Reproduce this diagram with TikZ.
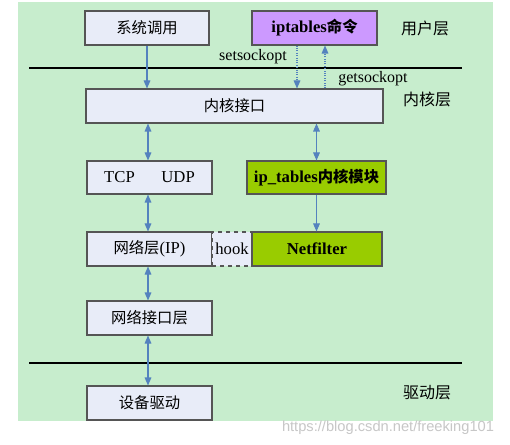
\documentclass[tikz,border=0pt]{standalone}
\usepackage{fontspec}
\setmainfont{Liberation Serif}
\newfontfamily\cjk{Noto Sans CJK SC}
\newfontfamily\wmfont{Liberation Sans}
\usetikzlibrary{arrows.meta,calc}
\definecolor{bgc}{RGB}{199,237,205}
\definecolor{boxc}{RGB}{232,236,248}
\definecolor{edgec}{RGB}{85,85,85}
\definecolor{purc}{RGB}{204,153,255}
\definecolor{grnc}{RGB}{153,204,0}
\definecolor{arrc}{RGB}{84,130,190}
\tikzset{
  box/.style={draw=edgec, line width=0.8pt, fill=boxc, inner sep=0pt, minimum height=25.5pt, font=\fontsize{12.5}{14}\selectfont},
  purbox/.style={box, fill=purc},
  grnbox/.style={box, fill=grnc},
  hookbox/.style={box, draw=edgec, dashed},
  conn/.style={draw=arrc, line width=0.8pt},
  onearrow/.style={conn, -{Triangle[length=6pt,width=5pt]}},
  twoarrow/.style={conn, {Triangle[length=6pt,width=5pt]}-{Triangle[length=6pt,width=5pt]}},
  dotarrow/.style={onearrow, densely dotted},
  layerlabel/.style={font=\cjk\fontsize{12}{14}\selectfont, inner sep=0pt},
  smalllabel/.style={font=\fontsize{12}{14}\selectfont, inner sep=0pt},
  rule/.style={draw=black, line width=1.6pt}
}
\newcommand{\cjkt}[1]{{\cjk\fontsize{11.5}{14}\selectfont #1}}
\begin{document}
\begin{tikzpicture}[x=0.75pt,y=-0.75pt]
\useasboundingbox (0,0) rectangle (510,445);
\fill[white] (0,0) rectangle (510,445);
\fill[bgc] (18,2) rectangle (493,421);
% rules
\draw[rule] (29,68) -- (462,68);
\draw[rule] (29,363) -- (462,363);
% boxes
\node[box, minimum width=93pt] (sys) at (147,28) {\cjkt{系统调用}};
\node[purbox, minimum width=93.75pt] (ipt) at (314.5,28) {\textbf{iptables}{\cjk\fontsize{11.5}{14}\selectfont\bfseries 命令}};
\node[box, minimum width=222.75pt] (kif) at (234.5,106) {\cjkt{内核接口}};
\node[box, minimum width=93.75pt, minimum height=24.75pt] (tcp) at (149.5,177.5) {TCP\hspace{1.6em}UDP};
\node[grnbox, minimum width=104.25pt, minimum height=24.75pt] (ipm) at (316.5,177.5) {\textbf{ip\_tables}{\cjk\fontsize{11.5}{14}\selectfont\bfseries 内核模块}};
\node[box, minimum width=93.75pt] (net) at (149.5,249) {\cjkt{网络层}(IP)};
\node[hookbox, minimum width=30pt] (hook) at (232,249) {hook};
\node[grnbox, minimum width=97.5pt] (nf) at (317,249) {\textbf{Netfilter}};
\node[box, minimum width=93.75pt] (nif) at (149.5,318) {\cjkt{网络接口层}};
\node[box, minimum width=93.75pt] (dev) at (149.5,403) {\cjkt{设备驱动}};
% layer labels
\node[layerlabel] (lu) at (425,28) {用户层};
\node[layerlabel] (lk) at (427,99) {内核层};
\node[layerlabel] (ld) at (427,393) {驱动层};
\node[smalllabel] (sso) at (253,57) {setsockopt};
\node[smalllabel] (gso) at (373,79) {getsockopt};
% connectors
\draw[onearrow] (sys.south) -- (sys.south |- kif.north);
\coordinate (d1) at ($(ipt.south)+(-17.5,0)$);
\coordinate (u1) at ($(ipt.south)+(10.5,0)$);
\draw[dotarrow] (d1) -- (d1 |- kif.north);
\draw[dotarrow] (u1 |- kif.north) -- (u1);
\coordinate (lc) at ($(tcp.north)+(-1.5,0)$);
\draw[twoarrow] (lc |- kif.south) -- (lc |- tcp.north);
\draw[twoarrow] (lc |- tcp.south) -- (lc |- net.north);
\draw[twoarrow] (lc |- net.south) -- (lc |- nif.north);
\draw[twoarrow] (lc |- nif.south) -- (lc |- dev.north);
\draw[twoarrow] (ipm.north |- kif.south) -- (ipm.north);
\draw[onearrow] (ipm.south) -- (ipm.south |- nf.north);
% watermark
\node[font=\wmfont\fontsize{11}{13}\selectfont, text=black!22, inner sep=0pt] (wm) at (388,428) {https://blog.csdn.net/freeking101};
\end{tikzpicture}
\end{document}
